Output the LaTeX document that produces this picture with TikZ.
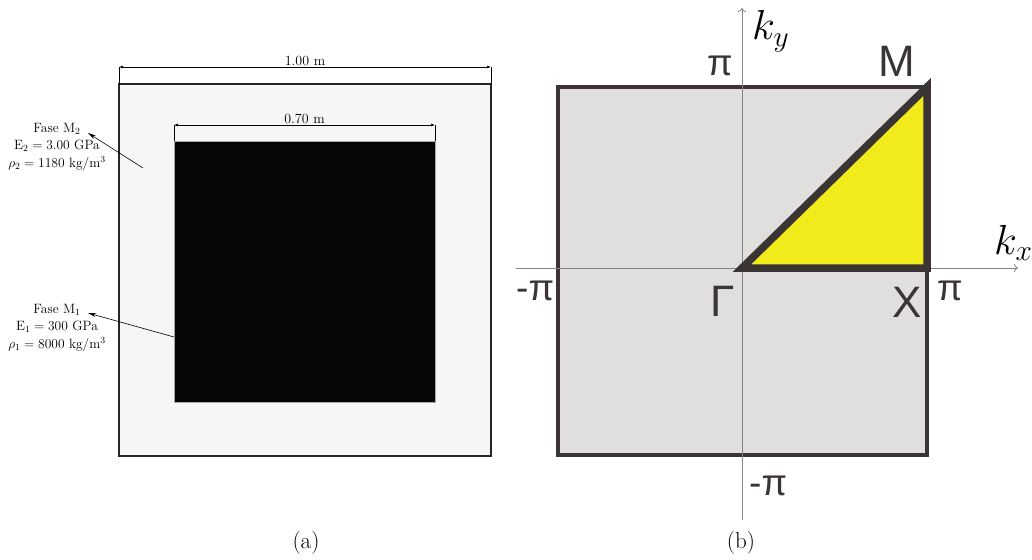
\RequirePackage{fix-cm}
\documentclass[tikz,border=0pt]{standalone}
\usepackage{fontspec}
\usepackage{amsmath}
\usepackage{tikz}
\usetikzlibrary{arrows.meta}
\newfontfamily\labelfont{Liberation Sans}
\definecolor{cellc}{HTML}{F6F6F4}
\definecolor{inclc}{HTML}{080604}
\definecolor{zonec}{HTML}{E0DFDE}
\definecolor{edgec}{HTML}{3A3534}
\definecolor{ibzc}{HTML}{F2EB1B}
\definecolor{axisc}{HTML}{858585}
\tikzset{
  cellbox/.style={draw=black!85, line width=1.4pt, fill=cellc},
  inclbox/.style={draw=black!35, line width=0.4pt, fill=inclc},
  dimedge/.style={{Latex[length=4pt,width=3pt]}-{Latex[length=4pt,width=3pt]}, line width=0.6pt},
  extedge/.style={line width=0.6pt},
  dimtext/.style={font=\fontsize{14}{14}\selectfont, inner sep=1pt},
  phasetext/.style={font=\fontsize{13.5}{17.5}\selectfont, align=center, inner sep=0pt},
  calloutedge/.style={-{Stealth[length=8pt,width=4pt]}, line width=0.6pt},
  zonebox/.style={draw=edgec, line width=4pt, fill=zonec},
  ibzpath/.style={draw=edgec, fill=ibzc, line width=7.5pt, line join=miter},
  axisedge/.style={-{To[length=4pt,width=8pt]}, draw=axisc, line width=0.8pt},
  wavetext/.style={font=\fontsize{42}{42}\selectfont, inner sep=0pt, anchor=base west},
  pointtext/.style={font=\labelfont\fontsize{44}{44}\selectfont, inner sep=0pt, anchor=base west, text=edgec},
  ticktext/.style={font=\labelfont\fontsize{37}{37}\selectfont, inner sep=0pt, anchor=base west, text=edgec},
  captext/.style={font=\fontsize{23}{23}\selectfont},
}

\begin{document}
\begin{tikzpicture}[x=1pt, y=-1pt]
  \useasboundingbox (0,0) rectangle (1032,559);

  % (a) unit cell
  \draw[cellbox] (119,84) rectangle (491,456);
  \draw[inclbox] (174,141) rectangle (435,402);
  \coordinate (oL) at (119,84);
  \coordinate (oR) at (491,84);
  \coordinate (iL) at (174,141);
  \coordinate (iR) at (435,141);
  \coordinate (dOL) at (119,67);
  \coordinate (dOR) at (491,67);
  \coordinate (dIL) at (174,125);
  \coordinate (dIR) at (435,125);
  \draw[extedge] (oL) -- (dOL);
  \draw[extedge] (oR) -- (dOR);
  \draw[extedge] (iL) -- (dIL);
  \draw[extedge] (iR) -- (dIR);
  \draw[dimedge] (dOL) -- node[dimtext, above] (wout) {1.00 m} (dOR);
  \draw[dimedge] (dIL) -- node[dimtext, above] (win) {0.70 m} (dIR);

  \node[phasetext] (mtwo) at (57,147)
    {Fase M$_2$\\ E$_2 = 3.00$ GPa\\ $\rho_2 = 1180$ kg/m$^3$};
  \node[phasetext] (mone) at (57,328)
    {Fase M$_1$\\ E$_1 = 300$ GPa\\ $\rho_1 = 8000$ kg/m$^3$};
  \coordinate (ptwo) at (143,168);
  \coordinate (ttwo) at (88,133);
  \coordinate (pone) at (174,337);
  \coordinate (tone) at (88,313);
  \draw[calloutedge] (ptwo) -- (ttwo);
  \draw[calloutedge] (pone) -- (tone);
  \node[captext] (capa) at (306,543) {(a)};

  % (b) first Brillouin zone
  \draw[zonebox] (558,87) rectangle (927,455);
  \coordinate (xlo) at (516,268);
  \coordinate (xhi) at (1018,268);
  \coordinate (ylo) at (742,520);
  \coordinate (yhi) at (742,8);
  \draw[axisedge] (xlo) -- (xhi);
  \draw[axisedge] (ylo) -- (yhi);
  \coordinate (gam) at (742,268);
  \coordinate (xpt) at (927,268);
  \coordinate (mpt) at (927,87);
  \draw[ibzpath] (gam) -- (xpt) -- (mpt) -- cycle;

  \node[wavetext] (ky) at (752,40) {$k_y$};
  \node[wavetext] (kx) at (994,254) {$k_x$};
  \node[pointtext] (lm) at (878,77) {M};
  \node[pointtext] (lx) at (892,317) {X};
  \node[pointtext] (lg) at (710,316) {Γ};
  \node[ticktext] (pt) at (707,76) {π};
  \node[ticktext] (pr) at (937,300) {π};
  \node[ticktext] (pl) at (516,300) {-π};
  \node[ticktext] (pb) at (749,495) {-π};
  \node[captext] (capb) at (741,543) {(b)};
\end{tikzpicture}
\end{document}
